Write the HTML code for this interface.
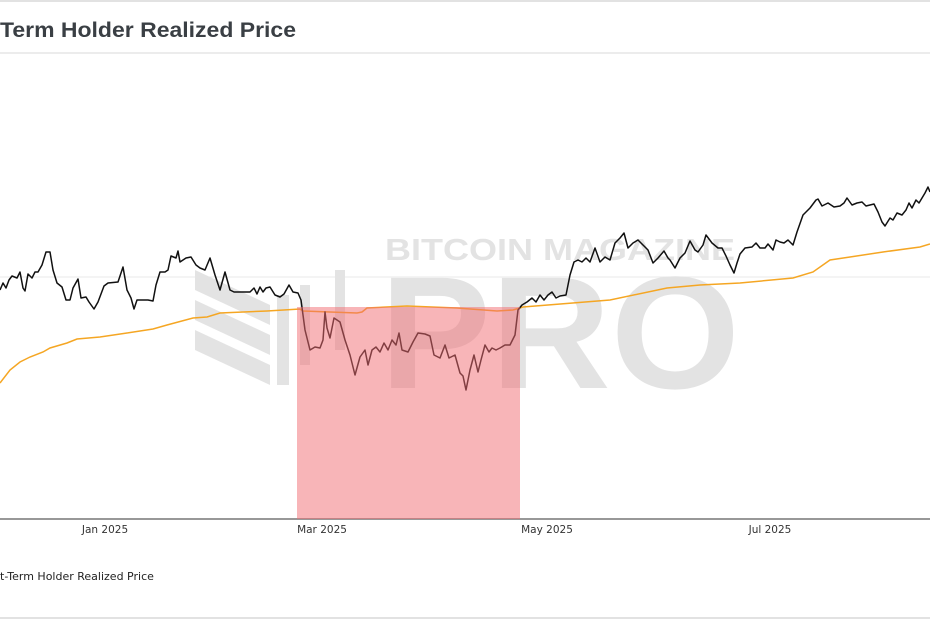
<!DOCTYPE html>
<html><head><meta charset="utf-8"><style>
body{margin:0;width:930px;height:620px;overflow:hidden;background:#fff;font-family:"Liberation Sans",sans-serif}
</style></head><body>
<svg width="930" height="620" xmlns="http://www.w3.org/2000/svg">
<line x1="0" y1="1" x2="930" y2="1" stroke="#e2e2e2" stroke-width="2"/>
<text x="0" y="37" font-size="21" font-weight="bold" fill="#3a3f44" font-family="Liberation Sans, sans-serif" textLength="296" lengthAdjust="spacingAndGlyphs">Term Holder Realized Price</text>
<line x1="0" y1="53" x2="930" y2="53" stroke="#e6e6e6" stroke-width="1.5"/>
<line x1="0" y1="277" x2="930" y2="277" stroke="#e8e8e8" stroke-width="1"/>
<g fill="#e3e3e3">
<text x="385" y="260" font-size="31" font-weight="bold" font-family="Liberation Sans, sans-serif" textLength="350" lengthAdjust="spacingAndGlyphs">BITCOIN MAGAZINE</text>
<text x="380" y="388" font-size="160" font-weight="bold" font-family="Liberation Sans, sans-serif" textLength="360" lengthAdjust="spacingAndGlyphs">PRO</text>
<polygon points="195,270 270,305 270,325 195,290"/>
<polygon points="195,300 270,335 270,355 195,320"/>
<polygon points="195,330 270,365 270,385 195,350"/>
<rect x="277" y="295" width="12" height="90"/>
<rect x="300" y="285" width="10" height="80"/>
<rect x="335" y="270" width="10" height="80"/>
</g>
<line x1="0" y1="519" x2="930" y2="519" stroke="#777" stroke-width="1.5"/>
<g font-size="10.5" fill="#333" text-anchor="middle" font-family="DejaVu Sans, sans-serif">
<text x="105" y="533">Jan 2025</text><text x="322" y="533">Mar 2025</text><text x="547" y="533">May 2025</text><text x="770" y="533">Jul 2025</text>
</g>
<polyline fill="none" stroke="#f5a623" stroke-width="1.5" points="0,383 10,370 20,362 30,357 43,352 50,348 67,343 77,339 100,337 127,333 153,329 167,325 193,318 207,317 220,313 267,311 300,309 303,311 357,313 362,312 367,308 407,306 457,308 497,311 513,310 523,307 610,300 667,288 700,285 740,283 793,278 813,272 830,260 850,257 883,252 920,247 930,244"/>
<polyline fill="none" stroke="#111" stroke-width="1.5" stroke-linejoin="round" points="0,290 3,283 6,288 9,280 12,276 17,278 20,272 23,288 25,291 28,274 32,278 35,272 38,272 42,265 46,252 50,252 53,270 57,283 62,287 66,300 70,300 73,288 78,279 81,298 86,297 89,302 94,309 98,302 104,286 108,283 118,282 123,267 127,290 131,298 134,309 137,300 148,300 153,301 156,285 160,272 165,272 168,270 171,256 176,258 178,251 180,262 186,258 191,257 196,265 200,268 205,270 210,258 215,275 220,290 225,272 230,290 234,292 250,292 254,288 257,294 260,287 263,292 266,288 270,287 275,295 280,297 284,294 289,285 293,292 298,293 301,300 305,330 310,350 315,347 320,348 323,340 325,312 327,328 330,338 334,318 340,322 345,340 350,355 355,375 360,357 365,350 368,365 372,350 376,347 380,352 384,343 388,350 392,340 396,345 399,333 402,350 408,352 413,342 418,333 425,334 430,336 434,355 440,358 445,345 449,358 455,355 460,373 463,376 466,390 470,370 474,355 478,372 481,360 485,345 489,352 492,348 496,350 500,348 505,345 510,345 515,335 518,310 522,305 527,302 532,298 536,302 540,295 544,300 548,295 552,292 556,298 560,296 566,295 570,275 574,262 578,260 582,262 586,258 590,262 595,248 600,262 605,257 610,260 615,243 620,238 624,233 628,248 633,243 638,240 643,245 648,250 653,263 658,258 664,251 668,258 670,260 675,268 680,258 685,253 690,241 695,250 698,252 703,245 706,235 712,243 718,248 722,248 726,256 730,265 734,273 737,263 740,254 745,248 752,247 756,243 760,248 765,248 768,244 773,250 776,240 780,242 784,243 788,240 793,245 797,232 803,215 810,208 816,200 818,199 822,206 828,203 834,207 840,206 844,203 847,198 852,205 857,203 862,202 866,206 870,205 874,204 878,212 882,222 885,226 890,218 893,220 897,213 902,215 906,210 909,203 912,208 916,200 919,203 925,193 928,187 930,192"/>
<rect x="297" y="307" width="223" height="212" fill="#f26b72" fill-opacity="0.5"/>
<text x="0" y="580" font-size="11" fill="#222" font-family="DejaVu Sans, sans-serif">t-Term Holder Realized Price</text>
<line x1="0" y1="618" x2="930" y2="618" stroke="#e2e2e2" stroke-width="2"/>
</svg>
</body></html>
